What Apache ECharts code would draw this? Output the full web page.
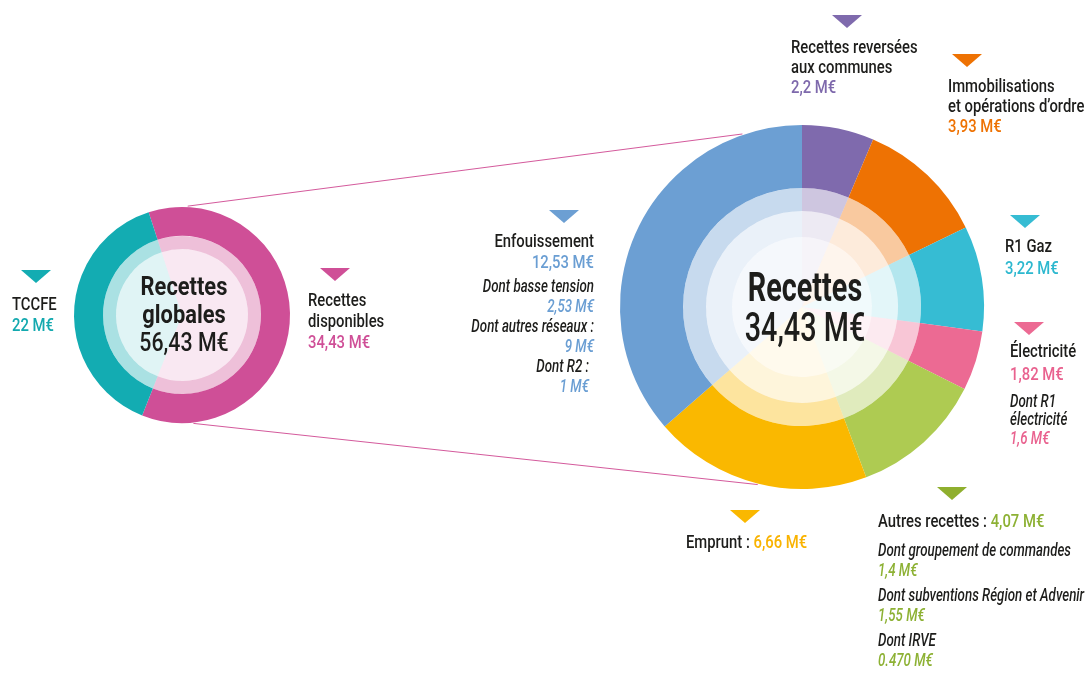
<!DOCTYPE html>
<html>
<head>
<meta charset="utf-8">
<script src="https://cdn.jsdelivr.net/npm/echarts@6/dist/echarts.min.js"></script>
<style>
  html, body { margin: 0; padding: 0; background: #fff; }
  #chart { width: 1086px; height: 673px; }
</style>
</head>
<body>
<div id="chart"></div>
<script>
  // values (M€)
  const leftNames = ["Recettes disponibles", "TCCFE"];
  const leftValues = [34.43, 22];
  const leftTotal = 56.43;

  const rightNames = [
    "Recettes reversées aux communes",
    "Immobilisations et opérations d’ordre",
    "R1 Gaz",
    "Électricité",
    "Autres recettes",
    "Emprunt",
    "Enfouissement"
  ];
  const rightValues = [2.2, 3.93, 3.22, 1.82, 4.07, 6.66, 12.53];
  const rightTotal = 34.43;

  const enfouissementDetails = [["Dont basse tension", "2,53 M€"], ["Dont autres réseaux :", "9 M€"], ["Dont R2 :", "1 M€"]];
  const electriciteDetails = [["Dont R1", "électricité", "1,6 M€"]];
  const autresDetails = [["Dont groupement de commandes", "1,4 M€"], ["Dont subventions Région et Advenir", "1,55 M€"], ["Dont IRVE", "0.470 M€"]];

  // styles
  const leftColors = ["#CF4F97", "#13ACB2"];
  const rightColors = ["#7F6AAD", "#EE7203", "#36BCD3", "#EC6A93", "#AECB52", "#FAB800", "#6C9FD3"];
  const valueColors = ["#7E69AC", "#EE7203", "#2DB8CF", "#E9628F", "#8DB134", "#F9B300", "#6A9ED3"];
  const FONT = 'Roboto, "Liberation Sans", sans-serif';
  const INK = "#1d1d1b";
  const SQUEEZE = 0.78;
  const SQUEEZE_IT = 0.74;

  const L = { cx: 182, cy: 315, r: [66, 79, 108] };
  const R = { cx: 802, cy: 307, r: [70, 96, 119, 182] };

  const fmt = (v) => String(v).replace(".", ",") + " M€";

  function ringSeries(names, values, colors, center, r0, r1, opacity, startAngle) {
    return {
      type: "pie",
      center: center,
      radius: [r0, r1],
      startAngle: startAngle,
      silent: true,
      label: { show: false },
      labelLine: { show: false },
      itemStyle: { borderWidth: 0 },
      data: names.map((n, i) => ({
        name: n,
        value: values[i],
        itemStyle: { color: colors[i], opacity: opacity }
      }))
    };
  }

  function textEl(x, y, align, parts, size, squeeze) {
    const rich = {};
    let str = "";
    const italic = parts.every((p) => p.italic);
    parts.forEach((p, k) => {
      rich["p" + k] = {
        fontSize: size,
        fontFamily: FONT,
        fill: p.color || INK,
        fontStyle: p.italic ? "italic" : "normal",
        fontWeight: p.bold ? "bold" : 500,
        lineHeight: size
      };
      str += "{p" + k + "|" + p.text + "}";
    });
    return {
      type: "text", silent: true, z: 10,
      x: x, y: y, scaleX: squeeze || (italic ? SQUEEZE_IT : SQUEEZE),
      style: { x: 0, y: 0, text: str, rich: rich, align: align, verticalAlign: "top" }
    };
  }

  function tri(cx, top, color) {
    return { type: "polygon", silent: true, z: 10, shape: { points: [[cx - 15, top], [cx + 15, top], [cx, top + 13]] }, style: { fill: color } };
  }

  // a block: list of lines with the gap before each
  function block(x, y, align, lines, size) {
    const els = [];
    let yy = y;
    lines.forEach((ln, i) => {
      if (i > 0) yy += ln.gap || 20;
      els.push(textEl(x + (ln.dx || 0), yy, align, ln.parts, ln.size || size || 19));
    });
    return els;
  }

  const n = (t) => ({ text: t });
  const it = (t, c) => ({ text: t, italic: true, color: c });
  const v = (t, c) => ({ text: t, color: c });

  function polar(c, r, deg) {
    const a = (deg * Math.PI) / 180;
    return [c.cx + r * Math.sin(a), c.cy - r * Math.cos(a)];
  }

  const graphics = [];
  // connector lines
  [[3, -19], [174, 194]].forEach(([a1, a2]) => {
    const p1 = polar(L, L.r[2] + 1, a1);
    const p2 = polar(R, R.r[3] + 1, a2);
    graphics.push({ type: "line", silent: true, z: -1, shape: { x1: p1[0], y1: p1[1], x2: p2[0], y2: p2[1] }, style: { stroke: "#D45A9C", lineWidth: 1 } });
  });

  // center texts
  graphics.push(textEl(L.cx + 2, 275, "center", [{ text: "Recettes", bold: true }], 26, 0.84));
  graphics.push(textEl(L.cx + 2, 303, "center", [{ text: "globales", bold: true }], 26, 0.84));
  graphics.push(textEl(L.cx + 2, 331, "center", [n(fmt(leftTotal))], 26, 0.82));
  graphics.push(textEl(R.cx + 3, 271, "center", [{ text: "Recettes", bold: true }], 40, 0.72));
  graphics.push(textEl(R.cx + 3, 311, "center", [n(fmt(rightTotal))], 40, 0.72));

  // left labels
  graphics.push(tri(36, 270, leftColors[1]));
  graphics.push(...block(12, 296, "left", [
    { parts: [n(leftNames[1])] },
    { parts: [v(fmt(leftValues[1]), "#13A9AF")], gap: 21 }
  ]));
  graphics.push(tri(335, 268, leftColors[0]));
  graphics.push(...block(308, 292, "left", [
    { parts: [n("Recettes")] },
    { parts: [n("disponibles")], gap: 21 },
    { parts: [v(fmt(leftValues[0]), leftColors[0])], gap: 21 }
  ]));

  // right labels
  graphics.push(tri(847, 15, rightColors[0]));
  graphics.push(...block(791, 39, "left", [
    { parts: [n("Recettes reversées")] },
    { parts: [n("aux communes")] },
    { parts: [v(fmt(rightValues[0]), valueColors[0])] }
  ]));
  graphics.push(tri(967, 54, rightColors[1]));
  graphics.push(...block(948, 78, "left", [
    { parts: [n("Immobilisations")] },
    { parts: [n("et opérations d’ordre")] },
    { parts: [v(fmt(rightValues[1]), valueColors[1])] }
  ]));
  graphics.push(tri(1025, 215, rightColors[2]));
  graphics.push(...block(1005, 238, "left", [
    { parts: [n(rightNames[2])] },
    { parts: [v(fmt(rightValues[2]), valueColors[2])], gap: 22 }
  ]));
  graphics.push(tri(1029, 322, rightColors[3]));
  graphics.push(...block(1010, 343, "left", [
    { parts: [n(rightNames[3])] },
    { parts: [v(fmt(rightValues[3]), valueColors[3])], gap: 23 },
    { parts: [it(electriciteDetails[0][0])], gap: 27, size: 18 },
    { parts: [it(electriciteDetails[0][1])], gap: 18, size: 18 },
    { parts: [it(electriciteDetails[0][2], valueColors[3])], gap: 19, size: 18 }
  ]));
  const autresLines = [{ parts: [n(rightNames[4] + " : "), v(fmt(rightValues[4]), valueColors[4])] }];
  autresDetails.forEach((d, i) => {
    autresLines.push({ parts: [it(d[0])], gap: i === 0 ? 29 : 25, size: 18 });
    autresLines.push({ parts: [it(d[1], valueColors[4])], gap: 20, size: 18 });
  });
  graphics.push(tri(952, 487, "#8FAF2E"));
  graphics.push(...block(878, 513, "left", autresLines));
  graphics.push(tri(745, 510, rightColors[5]));
  graphics.push(...block(686, 534, "left", [
    { parts: [n(rightNames[5] + " : "), v(fmt(rightValues[5]), valueColors[5])] }
  ]));
  const enfLines = [
    { parts: [n(rightNames[6])] },
    { parts: [v(fmt(rightValues[6]), valueColors[6])], gap: 21 }
  ];
  enfouissementDetails.forEach((d, i) => {
    const dx = i === 2 ? -5 : 0;
    enfLines.push({ parts: [it(d[0])], gap: i === 0 ? 24 : 20, size: 18, dx: dx });
    enfLines.push({ parts: [it(d[1], valueColors[6])], gap: 20, size: 18, dx: dx });
  });
  graphics.push(tri(564, 210, rightColors[6]));
  graphics.push(...block(594, 233, "right", enfLines));

  const chart = echarts.init(document.getElementById("chart"), null, { renderer: "canvas" });
  chart.setOption({
    animation: false,
    backgroundColor: "#ffffff",
    series: [
      ringSeries(leftNames, leftValues, leftColors, [L.cx, L.cy], L.r[1], L.r[2], 1, 108),
      ringSeries(leftNames, leftValues, leftColors, [L.cx, L.cy], L.r[0], L.r[1], 0.36, 108),
      ringSeries(leftNames, leftValues, leftColors, [L.cx, L.cy], 0, L.r[0], 0.13, 108),
      ringSeries(rightNames, rightValues, rightColors, [R.cx, R.cy], R.r[2], R.r[3], 1, 90),
      ringSeries(rightNames, rightValues, rightColors, [R.cx, R.cy], R.r[1], R.r[2], 0.38, 90),
      ringSeries(rightNames, rightValues, rightColors, [R.cx, R.cy], R.r[0], R.r[1], 0.14, 90),
      ringSeries(rightNames, rightValues, rightColors, [R.cx, R.cy], 0, R.r[0], 0.07, 90)
    ],
    graphic: graphics
  });
  window.addEventListener("resize", () => chart.resize());
</script>
</body>
</html>
